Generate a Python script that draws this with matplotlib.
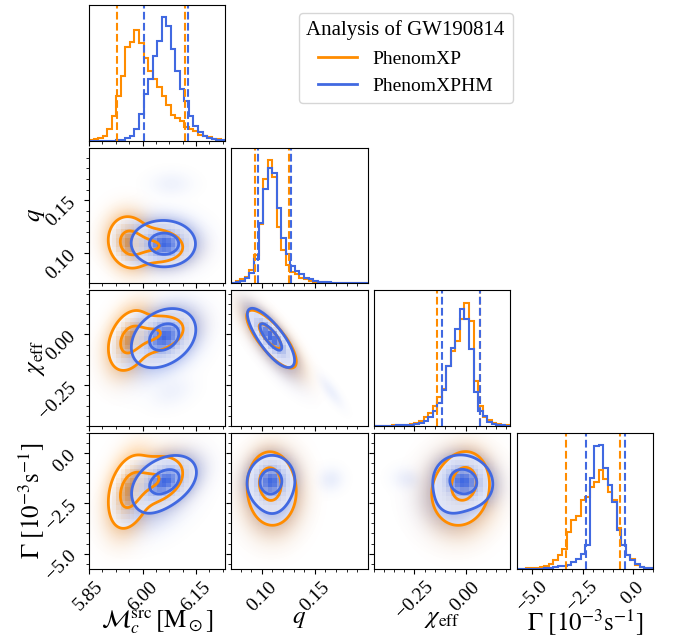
import numpy as np
import matplotlib
matplotlib.use("Agg")
import matplotlib.pyplot as plt
from matplotlib.colors import LinearSegmentedColormap, PowerNorm, to_rgba
from matplotlib.lines import Line2D
from matplotlib.ticker import AutoMinorLocator

plt.rcParams['font.family'] = ['Liberation Serif', 'DejaVu Serif']
plt.rcParams['mathtext.fontset'] = 'stix'

#======================================================================#
## parameters of the corner plot
labels = [r'$\mathcal{M}_c^{\rm src}\,[{\rm M}_\odot]$', r'$q$',
          r'$\chi_{\rm eff}$', r'$\Gamma\ [10^{-3}{\rm s}^{-1}]$']
ranges = [(5.85, 6.232), (0.0712, 0.1997), (-0.45, 0.217), (-5.75, 1.0)]
major_ticks = [[5.85, 6.00, 6.15], [0.10, 0.15], [-0.25, 0.00], [-5.0, -2.5, 0.0]]
tick_labels = [['5.85', '6.00', '6.15'], ['0.10', '0.15'],
               ['\u22120.25', '0.00'], ['\u22125.0', '\u22122.5', '0.0']]
n_bins = 30

models = ['PhenomXP', 'PhenomXPHM']
colors = ['darkorange', 'royalblue']

# 1D marginal histograms (30 bins over each axis range)
hist_xp = [
    [3, 5, 9, 15, 35, 73, 135, 195, 280, 297, 333, 292, 247, 210, 185,
     160, 135, 107, 78, 67, 60, 42, 35, 28, 18, 14, 10, 6, 4, 2],
    [2, 6, 12, 20, 40, 84, 177, 312, 370, 320, 170, 100, 54, 34, 27,
     17, 12, 8, 5, 4, 3, 2, 2, 1, 1, 1, 1, 0, 0, 0],
    [1, 1, 1, 1, 2, 2, 3, 4, 6, 8, 15, 28, 38, 60, 85,
     110, 180, 225, 255, 320, 368, 313, 135, 60, 28, 18, 10, 5, 3, 2],
    [0, 0, 1, 1, 2, 4, 8, 13, 25, 40, 60, 110, 145, 157, 205,
     213, 245, 260, 295, 267, 230, 205, 120, 70, 40, 28, 12, 5, 2, 1],
]
hist_xphm = [
    [0, 0, 0, 0, 0, 0, 1, 3, 8, 13, 35, 80, 140, 185, 255,
     300, 370, 345, 275, 210, 155, 120, 75, 45, 27, 15, 8, 4, 2, 1],
    [1, 3, 8, 15, 30, 72, 182, 282, 347, 332, 227, 137, 87, 52, 37,
     27, 17, 12, 7, 5, 4, 3, 2, 2, 1, 1, 1, 1, 0, 0],
    [0, 0, 1, 1, 1, 2, 2, 3, 4, 5, 8, 15, 28, 45, 68,
     108, 180, 233, 290, 350, 320, 230, 100, 45, 30, 12, 6, 3, 2, 1],
    [0, 0, 0, 0, 0, 0, 1, 2, 5, 8, 8, 12, 20, 30, 45,
     70, 270, 365, 368, 300, 250, 200, 115, 70, 40, 25, 15, 5, 2, 1],
]

# 90% credible bounds (dashed lines)
bounds_xp = [[5.928, 6.118], [0.0937, 0.1259], [-0.140, 0.072], [-3.30, -0.62]]
bounds_xphm = [[6.003, 6.127], [0.0962, 0.1275], [-0.115, 0.069], [-2.31, -0.42]]

# gaussian-mixture description of the 2D posteriors: (Mc, q, chi_eff, Gamma)
weights_xp = [0.56, 0.44]
means_xp = [[5.964, 0.110, -0.030, -1.95],
            [6.030, 0.107, 0.000, -1.35]]
stds_xp = [[0.028, 0.0115, 0.070, 0.85],
           [0.042, 0.008, 0.045, 0.60]]
corr_xp = [[1.0, -0.10, 0.30, 0.30],
           [-0.10, 1.0, -0.78, 0.0],
           [0.30, -0.78, 1.0, 0.05],
           [0.30, 0.0, 0.05, 1.0]]

weights_xphm = [0.9, 0.098, 0.002]
means_xphm = [[6.062, 0.1085, -0.010, -1.40],
              [6.030, 0.111, -0.080, -2.40],
              [6.080, 0.165, -0.280, -1.30]]
stds_xphm = [[0.038, 0.0095, 0.060, 0.55],
             [0.045, 0.011, 0.070, 0.70],
             [0.030, 0.006, 0.040, 0.30]]
corr_xphm = [[1.0, 0.0, 0.25, 0.35],
             [0.0, 1.0, -0.80, 0.05],
             [0.25, -0.80, 1.0, -0.10],
             [0.35, 0.05, -0.10, 1.0]]

levels_mass = [0.92, 0.42]       # outer and inner credible regions
fill_alpha = [1.0, 0.6]          # opacity of the white patch under each model

#======================================================================#
hists = [hist_xp, hist_xphm]
bounds = [bounds_xp, bounds_xphm]
mixtures = [(weights_xp, means_xp, stds_xp, corr_xp),
            (weights_xphm, means_xphm, stds_xphm, corr_xphm)]


def pair_density(mix, i, j, X, Y):
    w_all, m_all, s_all, corr = mix
    r = corr[i][j]
    D = np.zeros_like(X)
    for w, m, s in zip(w_all, m_all, s_all):
        dx = (X - m[i]) / s[i]
        dy = (Y - m[j]) / s[j]
        z = (dx**2 - 2*r*dx*dy + dy**2) / (1 - r**2)
        D += w * np.exp(-0.5*z) / (2*np.pi*s[i]*s[j]*np.sqrt(1 - r**2))
    return D


def mass_levels(D, fracs):
    flat = np.sort(D.ravel())[::-1]
    cum = np.cumsum(flat)
    cum /= cum[-1]
    return [flat[min(np.searchsorted(cum, f), len(flat)-1)] for f in fracs]


fig = plt.figure(figsize=(6.75, 6.41), dpi=100)
W, H = 675.0, 641.0
x0s = [89, 231.3, 373.6, 516.9]
y0s = [5, 147.7, 290.4, 433.1]
pw, ph = 136.3, 135.5

ndim = 4
axes = {}
for r in range(ndim):
    for c in range(r + 1):
        ax = fig.add_axes([x0s[c]/W, 1 - (y0s[r] + ph)/H, pw/W, ph/H])
        axes[(r, c)] = ax

for (r, c), ax in axes.items():
    if r == c:
        edges = np.linspace(ranges[c][0], ranges[c][1], n_bins + 1)
        top = 0
        for k in range(2):
            vals = np.array(hists[k][c], dtype=float)
            ax.stairs(vals, edges, color=colors[k], lw=1.5)
            top = max(top, vals.max())
            for b in bounds[k][c]:
                ax.axvline(b, color=colors[k], ls='--', lw=1.5)
        ax.set_ylim(0, 1.1*top)
        ax.set_yticks([])
        ax.tick_params(axis='y', which='both', left=False, labelleft=False)
    else:
        xr, yr = ranges[c], ranges[r]
        gx = np.linspace(xr[0], xr[1], 220)
        gy = np.linspace(yr[0], yr[1], 220)
        X, Y = np.meshgrid(gx, gy)
        cx = np.linspace(xr[0], xr[1], n_bins + 1)
        cy = np.linspace(yr[0], yr[1], n_bins + 1)
        CX, CY = np.meshgrid(0.5*(cx[1:] + cx[:-1]), 0.5*(cy[1:] + cy[:-1]))
        zo = 1
        lines = []
        for k in range(2):
            D = pair_density(mixtures[k], c, r, X, Y)
            lv = mass_levels(D, levels_mass)
            # scattered samples outside the contours, drawn as a faint haze
            rgba = np.zeros(D.shape + (4,))
            rgba[..., :3] = to_rgba(colors[k])[:3]
            rgba[..., 3] = 0.40 * np.clip(D / lv[0], 0, 1)**0.55
            ax.imshow(rgba, extent=[xr[0], xr[1], yr[0], yr[1]], origin='lower',
                      aspect='auto', interpolation='bilinear', zorder=zo)
            # white patch inside the outer contour
            ax.contourf(X, Y, D, [lv[0], D.max()*1.01], colors=['white'],
                        alpha=fill_alpha[k], antialiased=False, zorder=zo + 1)
            # binned density
            HC = pair_density(mixtures[k], c, r, CX, CY)
            cmap = LinearSegmentedColormap.from_list(
                'dens', [(1, 1, 1, 0), to_rgba(colors[k])])
            ax.pcolormesh(cx, cy, HC, cmap=cmap,
                          norm=PowerNorm(0.75, vmin=0, vmax=HC.max()),
                          shading='flat', zorder=zo + 2)
            lines.append((D, lv))
            zo += 3
        for k in range(2):
            D, lv = lines[k]
            ax.contour(X, Y, D, [lv[0], lv[1]], colors=colors[k],
                       linewidths=2.0, zorder=20)
        ax.set_ylim(*ranges[r])
        ax.yaxis.set_major_locator(plt.FixedLocator(major_ticks[r]))
        ax.yaxis.set_minor_locator(AutoMinorLocator())
        if c == 0:
            ax.set_yticklabels(tick_labels[r])
            ax.set_ylabel(labels[r], fontsize=18)
            ax.yaxis.set_label_coords(-0.31, 0.5)
        else:
            ax.tick_params(axis='y', which='both', labelleft=False)

    ax.set_xlim(*ranges[c])
    ax.xaxis.set_major_locator(plt.FixedLocator(major_ticks[c]))
    ax.xaxis.set_minor_locator(AutoMinorLocator())
    if r == ndim - 1:
        ax.set_xticklabels(tick_labels[c])
        ax.set_xlabel(labels[c], fontsize=18)
        ax.xaxis.set_label_coords(0.5, -0.29)
    else:
        ax.tick_params(axis='x', which='both', labelbottom=False)
    ax.tick_params(axis='both', which='major', labelsize=14, labelrotation=45)

handles = [Line2D([], [], color=colors[k], lw=2) for k in range(2)]
fig.legend(handles, models, title='Analysis of GW190814', loc='upper left',
           bbox_to_anchor=(289/W, 1 - 3/H), fontsize=14, title_fontsize=15)

fig.savefig('out.png', dpi=100)
